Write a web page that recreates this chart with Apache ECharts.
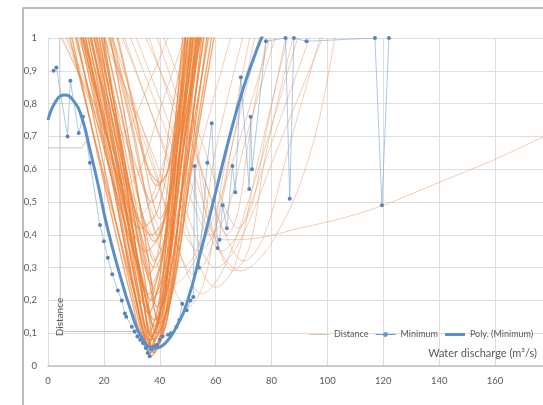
<!DOCTYPE html>
<html>
<head>
<meta charset="utf-8">
<script src="https://cdn.jsdelivr.net/npm/echarts@6/dist/echarts.min.js"></script>
<style>
  html, body { margin: 0; padding: 0; background: #fff; }
  #chart { width: 543px; height: 405px; }
</style>
</head>
<body>
<div id="chart"></div>
<script>
// distance curves of the main V bundle, [discharge, distance]
const denseCurves = [
  [[6.5,1.08],[20,0.56],[30,0.2],[35,0.06],[40,0.16],[46,0.55],[53,1.08]],
  [[8.5,1.08],[21,0.57],[31,0.19],[36,0.05],[40,0.15],[45,0.56],[51,1.08]],
  [[9.5,1.08],[23,0.56],[32,0.18],[37,0.04],[42,0.15],[48,0.55],[55,1.08]],
  [[10.5,1.08],[23,0.57],[31,0.22],[36,0.07],[40,0.18],[44,0.58],[49,1.08]],
  [[11.5,1.08],[24,0.58],[33,0.19],[38,0.05],[43,0.16],[49,0.55],[56,1.08]],
  [[12.5,1.08],[24.5,0.57],[32.5,0.2],[37,0.06],[41,0.16],[46,0.56],[52,1.08]],
  [[13.5,1.08],[25.5,0.58],[33.5,0.22],[38,0.08],[43,0.19],[50,0.57],[58,1.08]],
  [[14.5,1.08],[25.5,0.6],[32,0.25],[36,0.1],[40,0.21],[44.5,0.58],[50,1.08]],
  [[15.5,1.08],[27,0.57],[35,0.2],[39,0.06],[43,0.16],[48,0.56],[54,1.08]],
  [[16.5,1.08],[27,0.6],[33.5,0.24],[37,0.09],[42,0.2],[49,0.58],[59,1.08]],
  [[17.5,1.08],[27.5,0.62],[34.5,0.27],[38,0.12],[42,0.23],[46.5,0.6],[53,1.08]],
  [[7.5,1.08],[22,0.6],[33,0.28],[38,0.14],[43,0.25],[49,0.6],[57,1.08]],
  [[10.5,1.08],[24,0.6],[34,0.24],[39,0.1],[44,0.21],[51,0.58],[61,1.08]],
  [[13.5,1.08],[25,0.62],[32,0.3],[36,0.16],[40,0.27],[44.5,0.62],[51,1.08]],
  [[9.5,1.08],[23,0.64],[32,0.33],[37,0.2],[42,0.31],[48,0.64],[56,1.08]],
  [[15.5,1.08],[28,0.6],[36,0.27],[40,0.13],[45,0.24],[51,0.6],[60,1.08]],
  [[18.5,1.08],[28,0.56],[34.5,0.18],[38,0.04],[42,0.15],[46,0.56],[52,1.08]],
  [[20.5,1.08],[30,0.64],[36,0.32],[39,0.18],[43,0.3],[48,0.63],[55,1.08]],
  [[5.5,1.08],[20,0.58],[31,0.22],[36,0.08],[41,0.19],[47,0.57],[54,1.08]],
  [[11.5,1.08],[24,0.55],[32.5,0.17],[37,0.03],[41,0.13],[45,0.54],[50,1.08]]
];

// curves that fill the inside of the V, bottoming higher up
const innerCurves = [
  [[16.5,1.08],[27,0.62],[33.5,0.35],[37,0.25],[41,0.34],[45,0.62],[51,1.08]],
  [[18.5,1.08],[29,0.66],[35,0.41],[38,0.32],[42,0.4],[46,0.65],[53,1.08]],
  [[20.5,1.08],[31,0.7],[36,0.48],[39,0.4],[42.5,0.48],[47,0.7],[54,1.08]],
  [[14.5,1.08],[26,0.64],[32.5,0.37],[36,0.28],[40,0.37],[44,0.64],[50,1.08]],
  [[22.5,1.08],[32,0.73],[37,0.52],[40,0.45],[43.5,0.52],[48.5,0.73],[56,1.08]],
  [[17.5,1.08],[29,0.6],[35.5,0.31],[39,0.22],[43,0.31],[49,0.6],[57,1.08]],
  [[12.5,1.08],[26,0.64],[34,0.38],[38,0.3],[42,0.38],[47,0.64],[55,1.08]],
  [[19.5,1.08],[29,0.76],[34,0.56],[37,0.5],[40.5,0.56],[44,0.76],[51,1.08]],
  [[12,1.08],[22,0.72],[29,0.45],[35,0.35],[41,0.42],[47,0.7],[54,1.08]],
  [[15,1.08],[24,0.7],[30,0.42],[36,0.22],[43,0.4],[49,0.72],[56,1.08]],
  [[10,1.08],[21,0.74],[28,0.5],[33,0.42],[39,0.47],[45,0.7],[52,1.08]],
  [[18,1.08],[27,0.74],[32,0.52],[38,0.38],[44,0.52],[49,0.75],[55,1.08]],
  [[21,1.08],[29,0.8],[35,0.62],[39,0.55],[43,0.6],[47,0.78],[53,1.08]],
  [[13,1.08],[23,0.68],[30,0.33],[35,0.18],[40,0.3],[46,0.66],[53,1.08]],
  [[17,1.08],[26,0.7],[31,0.48],[37,0.4],[42,0.46],[46,0.68],[52,1.08]],
  [[23,1.08],[31,0.78],[36,0.6],[40,0.56],[44,0.62],[49,0.8],[55,1.08]]
];

// wider, fainter distance curves
const lightCurves = [
  [[3,1.08],[25,0.62],[38,0.33],[45,0.25],[53,0.33],[66,0.62],[82,1.08]],
  [[18,1.08],[37,0.62],[49,0.3],[55,0.22],[63,0.3],[76,0.62],[92,1.08]],
  [[23,1.08],[42,0.66],[54,0.37],[60,0.3],[68,0.37],[82,0.66],[102,1.08]],
  [[28,1.08],[46,0.68],[57,0.42],[62,0.35],[69,0.42],[80,0.68],[97,1.08]],
  [[13,1.08],[32,0.6],[44,0.26],[50,0.18],[56,0.26],[63,0.6],[74,1.08]],
  [[33,1.08],[50,0.65],[61,0.36],[66,0.29],[72,0.36],[78,0.65],[90,1.08]],
  [[8,1.08],[29,0.66],[42,0.37],[48,0.3],[54,0.37],[60,0.66],[72,1.08]],
  [[26,1.08],[43,0.7],[53,0.47],[58,0.4],[64,0.47],[71,0.7],[84,1.08]],
  [[36,1.08],[51,0.7],[60,0.47],[64,0.4],[68,0.47],[72,0.7],[80,1.08]],
  [[20,1.08],[37,0.64],[47,0.35],[52,0.28],[58,0.35],[65,0.64],[78,1.08]],
  [[31,1.08],[52,0.66],[64,0.39],[70,0.32],[77,0.39],[86,0.66],[100,1.08]],
  [[1,1.08],[22,0.68],[36,0.42],[42,0.35],[48,0.42],[55,0.68],[68,1.08]],
  [[38,1.08],[54,0.71],[63,0.49],[68,0.42],[73,0.49],[78,0.71],[87,1.08]],
  [[16,1.08],[36,0.68],[48,0.42],[54,0.35],[60,0.42],[66,0.68],[76,1.08]],
  [[24,1.08],[43,0.62],[54,0.31],[60,0.24],[67,0.31],[75,0.62],[88,1.08]],
  [[3,1.08],[16,0.78],[24,0.6],[28,0.55],[33,0.6],[40,0.78],[52,1.08]],
  [[8,1.08],[21,0.73],[28,0.51],[32,0.45],[37,0.51],[45,0.73],[58,1.08]],
  [[0,1.08],[13,0.86],[21,0.74],[25,0.7],[30,0.74],[36,0.86],[47,1.08]],
  [[52,0.75],[58,0.45],[63,0.33],[69,0.29],[76,0.33],[83,0.42],[90,0.55],[97,0.75],[103,1.02]],
  [[50,0.95],[54,0.6],[58,0.42],[63,0.385],[75,0.39],[90,0.42],[105,0.45],[120,0.49],[140,0.56],[160,0.63],[180,0.71]]
];

// nearly flat/kinked distance curves on the left
const kinkCurves = [
  [[4.2,1.05],[4.3,0.5],[4.4,0.11],[6,0.105],[30,0.105],[36,0.11]],
  [[0,0.665],[12,0.665],[14,0.69]]
];

const minimumPts = [
  [2,0.9],[3,0.91],[7,0.7],[8,0.87],[11,0.71],[12.5,0.76],[15,0.62],[18.6,0.43],
  [20,0.38],[21.4,0.33],[23,0.28],[25,0.23],[26.4,0.2],[27.5,0.16],[28,0.15],
  [30,0.12],[31,0.105],[32,0.09],[33,0.08],[34,0.07],[35,0.055],[35.7,0.04],
  [36.4,0.03],[37,0.05],[38,0.06],[39,0.065],[40,0.08],[41,0.09],[43,0.095],
  [44,0.1],[46,0.12],[47,0.14],[48,0.19],[49.6,0.17],[51,0.2],[52,0.21],
  [52.5,0.61],[54,0.3],[57,0.62],[58.6,0.74],[60.7,0.36],[61.4,0.385],
  [62.5,0.49],[64,0.42],[66,0.61],[67,0.53],[69,0.88],[72,0.54],[72.5,0.76],
  [73,0.6],[78,0.99],[85,1.0],[86.5,0.51],[88,1.0],[92.5,0.99],[117,1.0],
  [119.5,0.49],[122,1.0]
];

const polyPts = [
  [0,0.75],[3,0.81],[6,0.826],[9,0.81],[12,0.76],[15,0.66],[18,0.55],[21,0.43],
  [25,0.3],[30,0.16],[34,0.08],[38,0.055],[42,0.07],[46,0.12],[50,0.2],
  [55,0.36],[60,0.53],[65,0.7],[70,0.85],[75,0.97],[78,1.03]
];

const xTicks = { min: 0, max: 180, step: 20 };
const yTicks = { min: 0, max: 1, step: 0.1 };

const chart = echarts.init(document.getElementById('chart'));

const font = 'Lato, "Liberation Sans", sans-serif';
const series = [];

function addDistance(curves, color, width, smooth) {
  curves.forEach(function (c) {
    series.push({
      name: 'Distance', type: 'line', data: c, smooth: smooth, symbol: 'none',
      itemStyle: { color: '#ed7d31' },
      lineStyle: { color: color, width: width }, z: 2
    });
  });
}

addDistance(lightCurves, 'rgba(228,160,112,0.5)', 1, 0.35);
addDistance(innerCurves, 'rgba(238,140,75,0.6)', 1.2, 0.35);
addDistance(denseCurves, 'rgba(237,125,49,0.68)', 1.4, 0.35);
addDistance(kinkCurves, 'rgba(190,180,170,0.8)', 1, false);

series.push({
  name: 'Minimum', type: 'line', data: minimumPts, symbol: 'circle', symbolSize: 4,
  itemStyle: { color: '#5a84b8' },
  lineStyle: { color: 'rgba(120,165,215,0.6)', width: 1 }, z: 3
});
series.push({
  name: 'Poly. (Minimum)', type: 'line', data: polyPts, smooth: true, symbol: 'none',
  itemStyle: { color: '#5b8fcb' },
  lineStyle: { color: '#5b8fcb', width: 3 }, z: 4
});

chart.setOption({
  animation: false,
  backgroundColor: '#fff',
  grid: { left: 48, right: -8, top: 38, bottom: 39, outerBoundsMode: 'none' },
  legend: {
    left: 304, top: 325, width: 300, itemWidth: 20, itemHeight: 6, itemGap: 7,
    textStyle: { fontFamily: font, fontSize: 9, color: '#595959' },
    data: [
      { name: 'Distance', icon: 'path://M0,2.5H20V3.5H0Z', itemStyle: { color: '#e8c3a2' } },
      { name: 'Minimum', icon: 'path://M0,2.5H20V3.5H0Z M10,0.5A2.5,2.5,0,1,1,9.99,0.5Z', itemStyle: { color: '#6f97c9' } },
      { name: 'Poly. (Minimum)', icon: 'path://M0,1.5H20V4.5H0Z', itemStyle: { color: '#5b8fcb' } }
    ]
  },
  xAxis: {
    type: 'value', min: xTicks.min, max: xTicks.max, interval: xTicks.step,
    axisLine: { lineStyle: { color: '#bfbfbf', width: 1.5 } },
    axisTick: { show: false },
    axisLabel: { color: '#595959', fontFamily: font, fontSize: 9.5, margin: 10, showMaxLabel: false },
    splitLine: { show: true, lineStyle: { color: '#dedede', width: 1 } }
  },
  yAxis: {
    type: 'value', min: yTicks.min, max: yTicks.max, interval: yTicks.step,
    axisLine: { show: false },
    axisTick: { show: false },
    axisLabel: {
      color: '#595959', fontFamily: font, fontSize: 9.5, margin: 11,
      formatter: function (v) { return String(Math.round(v * 10) / 10).replace('.', ','); }
    },
    splitLine: { show: true, lineStyle: { color: '#dedede', width: 1 } }
  },
  graphic: [
    { type: 'rect', shape: { x: 23, y: 8, width: 700, height: 600 },
      style: { fill: 'none', stroke: '#a6a6a6', lineWidth: 1.5 }, silent: true, z: 10 },
    { type: 'text', x: 60, y: 317, rotation: Math.PI / 2,
      style: { text: 'Distance', fontFamily: font, fontSize: 10, fill: '#595959',
               align: 'center', verticalAlign: 'middle' }, z: 10 },
    { type: 'text', x: 537, y: 353,
      style: { text: 'Water discharge (m³/s)', fontFamily: font, fontSize: 11, fill: '#595959',
               align: 'right', verticalAlign: 'middle' }, z: 10 }
  ],
  series: series
});
</script>
</body>
</html>
